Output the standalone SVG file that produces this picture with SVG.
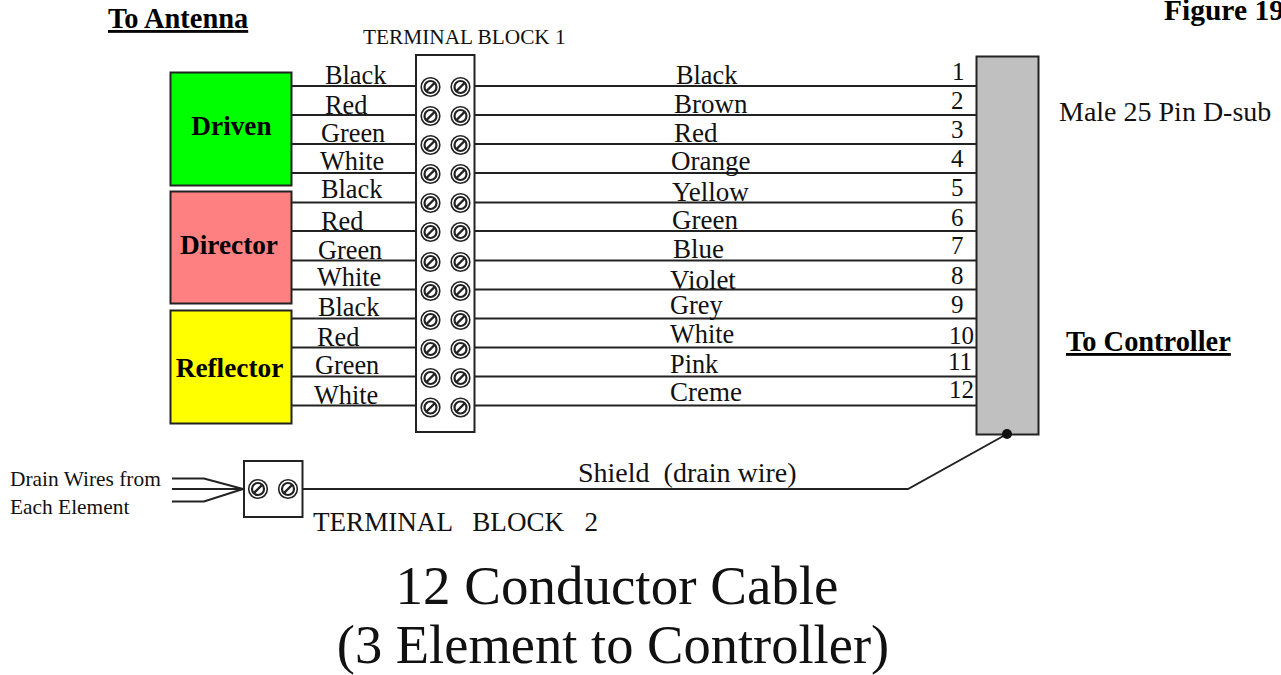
<svg xmlns="http://www.w3.org/2000/svg" xmlns:xlink="http://www.w3.org/1999/xlink" width="1281" height="675" viewBox="0 0 1281 675">
<style>
text{font-family:"Liberation Serif","Times New Roman",serif;fill:#111}
.w{font-size:26.300px}
.r{font-size:27px}
.n{font-size:25px}
.b{font-weight:bold;fill:#000;font-size:27.300px}
.h{font-size:28.400px;font-weight:bold;text-decoration:underline;fill:#000}
.box{stroke:#222;stroke-width:2}
.wire{stroke:#222;stroke-width:2;fill:none}
</style>
<defs>
<g id="screw">
<circle r="9.300" fill="#fff" stroke="#222" stroke-width="1.6"/>
<circle r="6" fill="#fff" stroke="#222" stroke-width="2.200"/>
<line x1="-4.500" y1="4.500" x2="4.500" y2="-4.500" stroke="#222" stroke-width="2.400"/>
</g>
</defs>
<rect width="1281" height="675" fill="#fff"/>
<text id="t-antenna" class="h" x="108" y="28">To Antenna</text>
<text id="t-figure" x="1164" y="20" class="b" style="font-size:29.500px">Figure 19</text>
<text id="t-tb1" x="363" y="44" font-size="21.300">TERMINAL BLOCK 1</text>
<g id="connectors">
<path class="wire" d="M291 86H416M291 115H416M291 144H416M291 173H416M291 202.500H416M291 231H416M291 260.500H416M291 289.500H416M291 318.500H416M291 347.500H416M291 376.500H416M291 405.500H416"/>
<path class="wire" d="M475 86H976M475 115H976M475 144H976M475 173H976M475 202.500H976M475 231H976M475 260.500H976M475 289.500H976M475 318.500H976M475 347.500H976M475 376.500H976M475 405.500H976"/>
<path class="wire" d="M172 478.500H204L243 489M172 489H243M172 501.500H204L243 489"/>
<path class="wire" d="M303 489H908L1007 434"/>
</g>
<g id="driven"><rect class="box" x="170.500" y="72.500" width="121" height="113" fill="#00ff00"/><text class="b" x="231.500" y="134.500" text-anchor="middle">Driven</text></g>
<g id="director"><rect class="box" x="170.500" y="191.500" width="121" height="112" fill="#ff8080"/><text class="b" x="229" y="253.500" text-anchor="middle">Director</text></g>
<g id="reflector"><rect class="box" x="170.500" y="310.500" width="121" height="113" fill="#ffff00"/><text class="b" x="229.500" y="376.500" text-anchor="middle">Reflector</text></g>
<g id="terminal-block-1">
<rect class="box" x="416" y="55" width="58.500" height="377" fill="#fff"/>
<use xlink:href="#screw" x="430.500" y="87"/><use xlink:href="#screw" x="460.500" y="87"/>
<use xlink:href="#screw" x="430.500" y="116"/><use xlink:href="#screw" x="460.500" y="116"/>
<use xlink:href="#screw" x="430.500" y="145"/><use xlink:href="#screw" x="460.500" y="145"/>
<use xlink:href="#screw" x="430.500" y="174"/><use xlink:href="#screw" x="460.500" y="174"/>
<use xlink:href="#screw" x="430.500" y="203"/><use xlink:href="#screw" x="460.500" y="203"/>
<use xlink:href="#screw" x="430.500" y="232"/><use xlink:href="#screw" x="460.500" y="232"/>
<use xlink:href="#screw" x="430.500" y="262"/><use xlink:href="#screw" x="460.500" y="262"/>
<use xlink:href="#screw" x="430.500" y="291"/><use xlink:href="#screw" x="460.500" y="291"/>
<use xlink:href="#screw" x="430.500" y="320"/><use xlink:href="#screw" x="460.500" y="320"/>
<use xlink:href="#screw" x="430.500" y="349"/><use xlink:href="#screw" x="460.500" y="349"/>
<use xlink:href="#screw" x="430.500" y="378"/><use xlink:href="#screw" x="460.500" y="378"/>
<use xlink:href="#screw" x="430.500" y="407.500"/><use xlink:href="#screw" x="460.500" y="407.500"/>
</g>
<g id="terminal-block-2">
<rect class="box" x="244" y="461" width="58.500" height="56" fill="#fff"/>
<use xlink:href="#screw" x="258" y="489"/><use xlink:href="#screw" x="288" y="489"/>
</g>
<g id="connector">
<rect x="976.500" y="56.500" width="62" height="378" fill="#c0c0c0" stroke="#222" stroke-width="2"/>
<circle cx="1007" cy="434" r="5" fill="#111"/>
</g>
<g id="left-labels">
<text class="w" x="325" y="83.500">Black</text>
<text class="w" x="325" y="113.500">Red</text>
<text class="w" x="321" y="141.500">Green</text>
<text class="w" x="320" y="169.500">White</text>
<text class="w" x="321" y="197.500">Black</text>
<text class="w" x="321" y="229.500">Red</text>
<text class="w" x="318" y="258.500">Green</text>
<text class="w" x="317" y="285.500">White</text>
<text class="w" x="318" y="315.500">Black</text>
<text class="w" x="317" y="345.500">Red</text>
<text class="w" x="315" y="373.500">Green</text>
<text class="w" x="314" y="403.500">White</text>
</g>
<g id="right-labels">
<text class="w" x="676" y="83.500">Black</text>
<text class="r" x="674" y="112.500">Brown</text>
<text class="r" x="674" y="141.500">Red</text>
<text class="r" x="671" y="169.500">Orange</text>
<text class="r" x="672" y="200.500">Yellow</text>
<text class="r" x="672" y="228.500">Green</text>
<text class="r" x="673" y="257.500">Blue</text>
<text class="r" x="670" y="288.500">Violet</text>
<text class="w" x="670" y="313.500">Grey</text>
<text class="w" x="670" y="342.500">White</text>
<text class="w" x="670" y="372.500">Pink</text>
<text class="r" x="670" y="400.500">Creme</text>
</g>
<g id="pin-numbers">
<text class="n" x="952" y="80">1</text>
<text class="n" x="951" y="109">2</text>
<text class="n" x="951" y="138">3</text>
<text class="n" x="951" y="167">4</text>
<text class="n" x="951" y="196">5</text>
<text class="n" x="951" y="226">6</text>
<text class="n" x="951" y="254">7</text>
<text class="n" x="951" y="284">8</text>
<text class="n" x="951" y="313">9</text>
<text class="n" x="949" y="344">10</text>
<text class="n" x="948" y="370">11</text>
<text class="n" x="949" y="398">12</text>
</g>
<text id="t-male" x="1059" y="121" font-size="28">Male 25 Pin D-sub</text>
<text id="t-controller" class="h" x="1066" y="351">To Controller</text>
<text id="t-drain1" x="10" y="486" font-size="21.400">Drain Wires from</text>
<text id="t-drain2" x="10" y="514" font-size="21.400">Each Element</text>
<text id="t-shield" x="578" y="481.500" font-size="28" xml:space="preserve">Shield  (drain wire)</text>
<text id="t-tb2" x="313" y="530.500" font-size="27.100" xml:space="preserve">TERMINAL   BLOCK   2</text>
<text id="t-title1" x="617" y="604" font-size="55" text-anchor="middle">12 Conductor Cable</text>
<text id="t-title2" x="613" y="663" font-size="54.500" text-anchor="middle">(3 Element to Controller)</text>
</svg>
